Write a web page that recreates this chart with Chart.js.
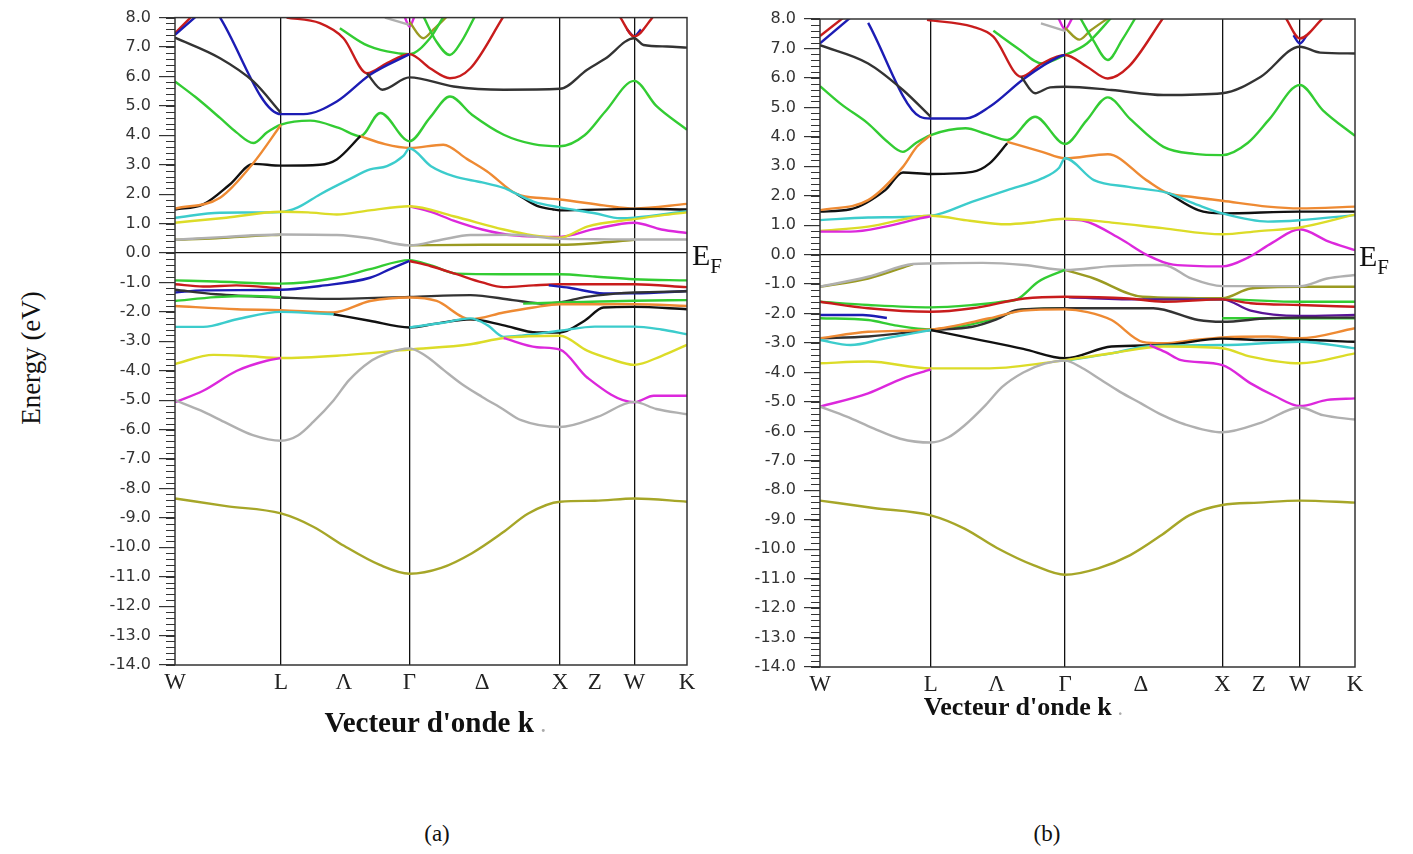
<!DOCTYPE html>
<html>
<head>
<meta charset="utf-8">
<script src="https://cdn.jsdelivr.net/npm/chart.js@4.4.1/dist/chart.umd.min.js"></script>
<style>
  body { margin: 0; width: 1413px; height: 854px; background: #fff; position: relative; overflow: hidden; font-family: "Liberation Serif", "Times New Roman", serif; }
  canvas { position: absolute; }
  .t { position: absolute; white-space: nowrap; color: #111; line-height: 1; }
</style>
</head>
<body>
<canvas id="bandsA" width="643" height="710" style="left:60px;top:0"></canvas>
<canvas id="bandsB" width="666" height="712" style="left:705px;top:0"></canvas>

<div class="t" style="left:31px;top:358px;font-size:27px;transform:translate(-50%,-50%) rotate(-90deg)">Energy (eV)</div>
<div class="t" style="left:692px;top:240px;font-size:30px">E<span style="font-size:21px;position:relative;top:8px">F</span></div>
<div class="t" style="left:1359px;top:241px;font-size:30px">E<span style="font-size:21px;position:relative;top:8px">F</span></div>
<div class="t" style="left:435px;top:722px;font-size:29px;font-weight:bold;transform:translate(-50%,-50%)">Vecteur d'onde k <span style="color:#aaa;font-size:18px">.</span></div>
<div class="t" style="left:1023px;top:707px;font-size:26px;font-weight:bold;transform:translate(-50%,-50%)">Vecteur d'onde k <span style="color:#aaa;font-size:16px">.</span></div>
<div class="t" style="left:437px;top:833px;font-size:23px;transform:translate(-50%,-50%)">(a)</div>
<div class="t" style="left:1047px;top:833px;font-size:23px;transform:translate(-50%,-50%)">(b)</div>

<script>
// k path (W L Λ Γ Δ X Z W K), energies in eV
const kTicks = [0, 20.7, 33, 45.8, 60, 75.2, 82, 89.7, 100];
const kLabels = ["W", "L", "Λ", "Γ", "Δ", "X", "Z", "W", "K"];
const kLines = [20.7, 45.8, 75.2, 89.7];
const eTicks = [-14, -13, -12, -11, -10, -9, -8, -7, -6, -5, -4, -3, -2, -1, 0, 1, 2, 3, 4, 5, 6, 7, 8];

// ---- panel (a) ----
const aOliveDeep = [[0,-8.34],[10,-8.6],[20.7,-8.85],[27,-9.3],[33,-9.95],[40,-10.6],[45.8,-10.9],[52,-10.7],[58,-10.2],[64,-9.5],[69,-8.85],[75.2,-8.45],[82,-8.42],[89.7,-8.34],[100,-8.45]];
const aGrayLow = [[0,-5.0],[5,-5.35],[9.6,-5.74],[15.2,-6.19],[20.7,-6.38],[24,-6.2],[27,-5.74],[31,-5.0],[34,-4.32],[38,-3.7],[41.4,-3.41],[45.8,-3.24],[49,-3.5],[52.5,-3.98],[56,-4.45],[60,-4.89],[64,-5.3],[67.6,-5.68],[75.2,-5.91],[82.5,-5.57],[89.7,-5.06],[94,-5.3],[100,-5.48]];
const aMagLow1 = [[0,-5.07],[5.5,-4.68],[12.1,-4.0],[17.9,-3.66],[20.7,-3.57]];
const aMagLow2 = [[64.2,-2.89],[70.7,-3.2],[75.2,-3.28],[80.5,-4.23],[89.7,-5.07],[93.5,-4.85],[100,-4.85]];
const aYellowLow = [[0,-3.77],[7.5,-3.46],[14,-3.5],[20.7,-3.57],[31.6,-3.49],[45.8,-3.28],[57.7,-3.1],[64.2,-2.89],[75.2,-2.81],[80.5,-3.32],[85,-3.6],[89.7,-3.8],[95,-3.5],[100,-3.12]];
const aCyanLow1 = [[0,-2.51],[5.5,-2.51],[12.1,-2.25],[20.7,-2.0],[28.3,-2.06],[31,-2.08]];
const aCyanLow2 = [[45.8,-2.53],[52,-2.38],[57.7,-2.22],[61,-2.45],[64.2,-2.85],[68,-2.8],[75.2,-2.64],[82,-2.5],[89.7,-2.5],[95,-2.6],[100,-2.76]];
const aBlackLow = [[30.9,-2.08],[38,-2.3],[45.8,-2.53],[51,-2.4],[57.7,-2.25],[64,-2.45],[70.7,-2.7],[75.2,-2.7],[80,-2.3],[83.7,-1.85],[89.7,-1.83],[100,-1.91]];
const aOrangeVal = [[0,-1.8],[12.1,-1.91],[20.7,-1.94],[30.9,-2.02],[38.1,-1.63],[45.8,-1.51],[51.1,-1.63],[57.7,-2.25],[64.2,-2.02],[70,-1.85],[75.2,-1.74],[89.7,-1.74],[100,-1.8]];
const aGreenMid1 = [[0,-1.63],[8,-1.5],[15,-1.46],[20.7,-1.5]];
const aGreenMid2 = [[68,-1.72],[75.2,-1.68],[83,-1.65],[89.7,-1.62],[100,-1.6]];
const aBlackVal = [[0,-1.25],[8,-1.4],[20.7,-1.51],[30,-1.56],[45.8,-1.49],[57.7,-1.43],[66,-1.6],[72,-1.72],[75.2,-1.68],[80,-1.5],[86,-1.38],[89.7,-1.34],[100,-1.3]];
const aBlueVal1 = [[0,-1.34],[5.5,-1.27],[20.7,-1.25],[28.3,-1.12],[38.1,-0.84],[42,-0.55],[45.8,-0.27]];
const aBlueVal2 = [[73,-1.1],[77,-1.18],[83.7,-1.37],[89.7,-1.37],[100,-1.29]];
const aRedVal1 = [[0,-1.06],[5.5,-1.14],[12,-1.1],[20.7,-1.2]];
const aRedVal2 = [[45.8,-0.27],[50,-0.45],[55,-0.72],[60,-1.0],[64.2,-1.16],[70,-1.1],[75.2,-1.06],[89.7,-1.06],[100,-1.16]];
const aGreenTop = [[0,-0.93],[8,-0.97],[20.7,-1.04],[31.6,-0.84],[38.1,-0.55],[45.8,-0.24],[50,-0.42],[55,-0.7],[64,-0.72],[75.2,-0.72],[82,-0.8],[89.7,-0.89],[100,-0.93]];
const aOliveCon1 = [[0,0.45],[8,0.5],[15,0.58],[20.7,0.62]];
const aOliveCon2 = [[45.8,0.26],[60,0.28],[75.2,0.28],[83,0.35],[89.7,0.45]];
const aGrayCon = [[0,0.45],[10,0.55],[20.7,0.63],[31.6,0.61],[38,0.5],[45.8,0.26],[52,0.45],[57.7,0.61],[66,0.62],[75.2,0.48],[82,0.47],[89.7,0.46],[100,0.46]];
const aYellowCon = [[0,1.03],[10,1.2],[20.7,1.4],[26,1.38],[31.6,1.31],[38,1.45],[45.8,1.59],[54.4,1.25],[64.2,0.8],[70,0.6],[75.2,0.52],[80.5,0.9],[89.7,1.15],[95,1.28],[100,1.38]];
const aMagCon = [[45.8,1.59],[50,1.4],[54.4,1.1],[60,0.8],[66,0.6],[75.2,0.55],[82,0.82],[89.7,1.03],[95,0.8],[100,0.68]];
const aCyanCon = [[0,1.2],[8.8,1.37],[20.7,1.39],[24,1.55],[28.3,1.99],[34,2.5],[38.1,2.84],[41.4,2.95],[44.6,3.3],[45.8,3.55],[50,2.95],[54.4,2.61],[60,2.4],[64.2,2.21],[66.8,2.0],[70,1.75],[75.2,1.55],[82,1.35],[87,1.18],[89.7,1.2],[100,1.42]];
const aBlackCon1 = [[0,1.48],[5.5,1.65],[10.7,2.33],[15.3,3.03],[20.7,2.97],[28.3,3.0],[31.6,3.18],[36.2,3.97]];
const aBlackCon2 = [[66.8,2.0],[70.7,1.6],[73.9,1.48],[75.2,1.45],[89.7,1.5],[100,1.48]];
const aOrangeCon1 = [[0,1.51],[8.8,1.88],[15.3,3.06],[20.7,4.36]];
const aOrangeCon2 = [[36.2,3.97],[41,3.7],[45.8,3.57],[52.4,3.68],[57,3.2],[60.9,2.78],[66.8,2.0],[72,1.86],[75.2,1.82],[83.7,1.62],[89.7,1.51],[100,1.67]];
const aGreenCon = [[0,5.83],[4,5.3],[8.8,4.59],[12,4.1],[15.3,3.74],[18,4.1],[20.7,4.36],[26.4,4.5],[32,4.25],[36.2,3.97],[40.1,4.76],[45.8,3.8],[49.8,4.6],[53.7,5.32],[58,4.7],[64.2,4.02],[70,3.7],[75.2,3.63],[80,4.0],[84,4.8],[89.7,5.85],[94,5.0],[100,4.19]];
const aBlueHi1 = [[0,7.41],[4.5,8.1]];
const aBlueHi2 = [[8.8,8.0],[20.7,4.72],[25.1,4.72],[31.6,5.15],[38.1,6.06],[45.8,6.76]];
const aBlueHi3 = [[88.3,7.6],[89.7,7.36],[91,7.6]];
const aBlackHi1 = [[0,7.32],[8.8,6.62],[15.3,5.83],[20.7,4.76]];
const aBlackHi2 = [[37.5,6.1],[40.5,5.55],[45.8,5.97],[54.4,5.66],[64.2,5.55],[75.2,5.58],[80.5,6.23],[84,6.6],[89.7,7.3],[91.5,7.07],[96.1,7.02],[100,6.98]];
const aRedHi1 = [[0,7.47],[3.6,8.1]];
const aRedHi2 = [[21.8,8.0],[28.3,7.81],[32.9,7.3],[37.5,6.11],[41.4,6.45],[45.8,6.76],[49.8,6.28],[53.7,5.94],[57.7,6.28],[64.2,8.05]];
const aRedHi3 = [[86.8,8.05],[89.7,7.36],[93.5,8.05]];
const aGreenHi1 = [[32.2,7.64],[37,7.1],[41.4,6.85],[45.8,6.76],[49.8,7.3],[52.5,8.05]];
const aGreenHi2 = [[48.5,8.05],[51,7.2],[53.7,6.73],[56,7.2],[58.6,8.05]];
const aOliveHi = [[45.8,7.85],[48.5,7.3],[50.5,7.6],[53.2,8.05]];
const aGrayHi = [[41,8.0],[45.8,7.75]];
const aMagHi = [[44.8,8.05],[45.8,7.7],[46.8,8.05]];

// ---- panel (b) ----
const bOliveDeep = [[0,-8.35],[10,-8.6],[20.7,-8.85],[27,-9.3],[33,-9.95],[40,-10.55],[45.8,-10.87],[52,-10.65],[58,-10.2],[64,-9.5],[69,-8.85],[75.2,-8.5],[82,-8.42],[89.7,-8.35],[100,-8.42]];
const bGrayLow = [[0,-5.16],[5,-5.5],[10,-5.9],[15,-6.25],[20.7,-6.38],[24,-6.2],[27,-5.8],[31,-5.1],[34,-4.5],[38,-4.0],[42,-3.7],[45.8,-3.6],[49,-3.85],[52.5,-4.25],[56,-4.65],[60,-5.05],[64,-5.45],[68,-5.75],[75.2,-6.03],[82.5,-5.7],[89.7,-5.19],[94,-5.45],[100,-5.6]];
const bMagLow1 = [[0,-5.16],[9,-4.71],[15.5,-4.2],[19.4,-3.97],[20.7,-3.9]];
const bMagLow2 = [[61.6,-3.07],[64.5,-3.3],[67.5,-3.58],[75.2,-3.75],[80.5,-4.37],[85,-4.8],[89.7,-5.14],[94.8,-4.93],[100,-4.88]];
const bYellowLow = [[0,-3.69],[9,-3.63],[20.7,-3.86],[31.7,-3.86],[45.8,-3.58],[54.5,-3.35],[64.2,-3.12],[75.2,-3.18],[80.5,-3.46],[89.7,-3.69],[100,-3.35]];
const bCyanLow1 = [[0,-2.9],[5.7,-3.07],[12,-2.85],[20.7,-2.56]];
const bCyanLow2 = [[45.8,-3.6],[54.5,-3.35],[62,-3.1],[75.2,-3.07],[89.7,-2.96],[100,-3.18]];
const bBlackLow = [[20.7,-2.56],[30,-2.9],[38,-3.2],[45.8,-3.52],[54.5,-3.12],[64.2,-3.07],[75.2,-2.85],[82,-2.9],[89.7,-2.9],[100,-2.96]];
const bBlackVal = [[0,-2.84],[9,-2.78],[20.7,-2.56],[28.5,-2.45],[33,-2.2],[36.9,-1.88],[45.8,-1.82],[62.3,-1.82],[70.7,-2.22],[75.2,-2.28],[83.7,-2.16],[89.7,-2.14],[100,-2.14]];
const bOrangeVal = [[0,-2.84],[9,-2.62],[20.7,-2.54],[31.7,-2.16],[38,-1.9],[45.8,-1.86],[50,-1.95],[54.5,-2.22],[60.3,-2.96],[64.2,-3.01],[70,-2.9],[75.2,-2.81],[83.7,-2.78],[89.7,-2.84],[100,-2.5]];
const bGreenMid1 = [[0,-2.16],[9,-2.22],[14,-2.4],[20.7,-2.54],[31.7,-2.22],[38.2,-1.86],[45.8,-1.82]];
const bGreenMid2 = [[75.2,-2.16],[89.7,-2.16],[100,-2.16]];
const bBlueVal1 = [[0,-2.05],[8,-2.05],[12.5,-2.15]];
const bBlueVal2 = [[46.5,-1.45],[60.3,-1.52],[75.2,-1.52],[80.5,-1.9],[89.7,-2.08],[100,-2.05]];
const bRedVal = [[0,-1.6],[9,-1.82],[20.7,-1.94],[28.5,-1.82],[38.2,-1.49],[45.8,-1.43],[57.7,-1.49],[64.2,-1.6],[75.2,-1.52],[80.5,-1.65],[89.7,-1.71],[100,-1.77]];
const bGreenVal1 = [[0,-1.6],[9,-1.71],[20.7,-1.79],[28.5,-1.71],[34,-1.6],[37,-1.5],[40.8,-0.92],[45.8,-0.52]];
const bGreenVal2 = [[60.3,-1.52],[75.2,-1.52],[89.7,-1.6],[100,-1.6]];
const bOliveVal1 = [[0,-1.09],[9,-0.81],[17.4,-0.32]];
const bOliveVal2 = [[45.8,-0.52],[51.2,-0.81],[60.3,-1.43],[75.2,-1.48],[80.5,-1.15],[89.7,-1.09],[100,-1.09]];
const bGrayTop = [[0,-1.09],[9,-0.75],[17.4,-0.32],[20.7,-0.3],[30.4,-0.28],[38.2,-0.35],[45.8,-0.52],[54.5,-0.39],[64.2,-0.35],[69.4,-0.81],[75.2,-1.07],[89.7,-1.07],[94.8,-0.81],[100,-0.69]];
const bMagCon1 = [[0,0.78],[5.7,0.78],[12.2,0.95],[18.7,1.23],[20.7,1.3]];
const bMagCon2 = [[45.8,1.2],[49.3,1.15],[56.3,0.52],[61,0.0],[66,-0.34],[75.2,-0.4],[80,-0.1],[84.5,0.4],[89.7,0.86],[95,0.45],[100,0.15]];
const bYellowCon = [[0,0.8],[9,0.95],[20.7,1.32],[28,1.15],[34.8,1.03],[40,1.1],[45.8,1.22],[55,1.08],[64,0.9],[75.2,0.69],[82,0.8],[89.7,0.92],[100,1.36]];
const bCyanCon = [[0,1.17],[9,1.26],[20.7,1.32],[28.5,1.8],[35,2.19],[41.5,2.59],[44.7,2.95],[45.8,3.27],[51.2,2.53],[57.7,2.3],[64.9,2.1],[70.7,1.68],[75.2,1.4],[83.7,1.12],[89.7,1.17],[100,1.34]];
const bBlackCon1 = [[0,1.46],[5.7,1.54],[12.2,2.19],[15.5,2.79],[20.7,2.74],[28.5,2.81],[31.7,3.1],[35,3.78]];
const bBlackCon2 = [[64.9,2.1],[70.7,1.51],[75.2,1.4],[89.7,1.46],[100,1.46]];
const bOrangeCon1 = [[0,1.51],[9,1.85],[15.5,2.98],[18.1,3.66],[20.7,4.06]];
const bOrangeCon2 = [[35,3.83],[41.5,3.49],[45.8,3.27],[53.8,3.41],[61,2.53],[64.9,2.1],[70,1.95],[75.2,1.83],[83.7,1.63],[89.7,1.57],[100,1.63]];
const bGreenCon = [[0,5.72],[4,5.1],[9,4.45],[12.5,3.85],[15.5,3.49],[18,3.8],[20.7,4.06],[27.2,4.29],[31,4.1],[35,3.89],[40.2,4.68],[45.8,3.76],[49.8,4.55],[53.8,5.34],[58,4.6],[64.2,3.66],[70,3.42],[75.2,3.38],[80,3.8],[84,4.6],[89.7,5.76],[94,4.9],[100,4.03]];
const bBlueHi1 = [[0,7.17],[5.7,8.05]];
const bBlueHi2 = [[9,7.87],[18.7,4.68],[20.7,4.62],[27.2,4.62],[31.7,5.02],[38.2,5.98],[44.7,6.72],[45.8,6.78]];
const bBlueHi3 = [[88.5,7.45],[89.7,7.17],[91,7.45]];
const bBlackHi1 = [[0,7.11],[9,6.49],[15.5,5.59],[20.7,4.68]];
const bBlackHi2 = [[37.6,6.04],[40.2,5.48],[43,5.68],[45.8,5.7],[54.5,5.59],[64.2,5.42],[75.2,5.48],[82.4,6.04],[89.7,7.06],[93.5,6.86],[100,6.83]];
const bRedHi1 = [[0,7.42],[4.4,8.05]];
const bRedHi2 = [[20,7.97],[28.5,7.74],[32.4,7.4],[37.6,6.04],[41.5,6.49],[45.8,6.78],[49.9,6.38],[53.8,5.98],[57.7,6.38],[64.2,8.05]];
const bRedHi3 = [[87,8.05],[89.7,7.34],[94.1,8.05]];
const bGreenHi1 = [[32.4,7.6],[37,7.0],[41.5,6.49],[45.8,6.78],[49.9,7.17],[54.5,8.05]];
const bGreenHi2 = [[48.6,8.05],[51,7.3],[53.8,6.61],[56.5,7.3],[59,8.05]];
const bOliveHi = [[45.8,7.7],[48.5,7.3],[50.5,7.6],[54,8.05]];
const bGrayHi = [[41.3,7.85],[45.8,7.6]];
const bMagHi = [[44.5,8.05],[45.8,7.65],[47.2,8.05]];

const palette = {
  green: "#33cc33", blue: "#1c1cb4", red: "#c81c1c", black: "#111111", dark: "#333333",
  orange: "#ee8a33", cyan: "#3ccccc", yellow: "#dcdc28", magenta: "#dc28dc",
  gray: "#b0b0b0", olive: "#9a9a22", deep: "#a6a628", purple: "#5a1496"
};

const bandsA = [
  [aOliveDeep, "deep"], [aGrayLow, "gray"], [aMagLow1, "magenta"], [aMagLow2, "magenta"], [aYellowLow, "yellow"],
  [aCyanLow1, "cyan"], [aCyanLow2, "cyan"], [aBlackLow, "black"], [aOrangeVal, "orange"], [aGreenMid1, "green"],
  [aGreenMid2, "green"], [aBlackVal, "dark"], [aBlueVal1, "blue"], [aBlueVal2, "blue"], [aRedVal1, "red"],
  [aRedVal2, "red"], [aGreenTop, "green"], [aGrayCon, "gray"], [aOliveCon1, "olive"], [aOliveCon2, "olive"],
  [aYellowCon, "yellow"], [aMagCon, "magenta"], [aCyanCon, "cyan"], [aOrangeCon1, "orange"], [aBlackCon1, "black"],
  [aBlackCon2, "black"], [aOrangeCon2, "orange"], [aGreenCon, "green"], [aBlackHi1, "dark"], [aBlackHi2, "dark"],
  [aBlueHi1, "blue"], [aBlueHi2, "blue"], [aRedHi1, "red"], [aRedHi2, "red"], [aRedHi3, "red"], [aBlueHi3, "blue"],
  [aGreenHi1, "green"], [aGreenHi2, "green"], [aOliveHi, "olive"], [aGrayHi, "gray"], [aMagHi, "magenta"]
];

const bandsB = [
  [bOliveDeep, "deep"], [bGrayLow, "gray"], [bMagLow1, "magenta"], [bMagLow2, "magenta"], [bYellowLow, "yellow"],
  [bCyanLow1, "cyan"], [bCyanLow2, "cyan"], [bBlackLow, "black"], [bOrangeVal, "orange"], [bBlackVal, "dark"],
  [bGreenMid1, "green"], [bGreenMid2, "green"], [bBlueVal1, "blue"], [bRedVal, "red"], [bBlueVal2, "purple"],
  [bGreenVal1, "green"], [bGreenVal2, "green"], [bGrayTop, "gray"], [bOliveVal1, "olive"], [bOliveVal2, "olive"],
  [bMagCon1, "magenta"], [bYellowCon, "yellow"], [bMagCon2, "magenta"], [bCyanCon, "cyan"], [bOrangeCon1, "orange"],
  [bBlackCon1, "black"], [bBlackCon2, "black"], [bOrangeCon2, "orange"], [bGreenCon, "green"], [bBlackHi1, "dark"],
  [bBlackHi2, "dark"], [bBlueHi1, "blue"], [bBlueHi2, "blue"], [bRedHi1, "red"], [bRedHi2, "red"], [bRedHi3, "red"],
  [bBlueHi3, "blue"], [bGreenHi1, "green"], [bGreenHi2, "green"], [bOliveHi, "olive"], [bGrayHi, "gray"], [bMagHi, "magenta"]
];

// frame + minor ticks on the energy axis
const frame = {
  id: "frame",
  afterDraw(chart) {
    const { ctx, chartArea: a, scales: { y } } = chart;
    ctx.save();
    ctx.strokeStyle = "#333";
    ctx.lineWidth = 1;
    ctx.beginPath();
    for (let i = 0; i <= 110; i++) {
      const py = Math.round(y.getPixelForValue(-14 + i * 0.2)) + 0.5;
      ctx.moveTo(a.left - 9, py);
      ctx.lineTo(a.left, py);
    }
    ctx.stroke();
    ctx.lineWidth = 1.5;
    ctx.strokeRect(a.left, a.top, a.right - a.left, a.bottom - a.top);
    ctx.restore();
  }
};

const makeChart = (id, bands, padTop) => {
  const context = document.getElementById(id).getContext("2d");
  return new Chart(context, {
    type: "line",
    data: {
      datasets: bands.map(([pts, c]) => ({
        data: pts.map(([x, y]) => ({ x, y })),
        borderColor: palette[c],
        borderWidth: 2.4,
        pointRadius: 0,
        cubicInterpolationMode: "monotone",
        fill: false,
        clip: 0,
      })),
    },
    options: {
      responsive: false,
      animation: false,
      devicePixelRatio: 1,
      layout: { padding: { top: padTop, right: 16, bottom: 5, left: 0 } },
      plugins: { legend: { display: false }, tooltip: { enabled: false } },
      scales: {
        x: {
          type: "linear",
          min: 0,
          max: 100,
          afterBuildTicks: (s) => { s.ticks = kTicks.map((value) => ({ value })); },
          afterFit: (s) => { s.height = 40; s.paddingLeft = 0; s.paddingRight = 0; },
          border: { display: false },
          grid: {
            drawTicks: false,
            lineWidth: 1.3,
            color: (c) => (c.tick && kLines.includes(c.tick.value) ? "#111" : "rgba(0,0,0,0)"),
          },
          ticks: {
            autoSkip: false,
            maxRotation: 0,
            padding: 4,
            color: "#222",
            font: { family: "Liberation Serif", size: 23 },
            callback: (v, i) => kLabels[i],
          },
        },
        y: {
          min: -14,
          max: 8,
          afterBuildTicks: (s) => { s.ticks = eTicks.map((value) => ({ value })); },
          afterFit: (s) => { s.width = 115; },
          border: { display: false },
          grid: {
            lineWidth: 1.2,
            tickLength: 16,
            tickColor: "#333",
            color: (c) => (c.tick && c.tick.value === 0 ? "#111" : "rgba(0,0,0,0)"),
          },
          ticks: {
            autoSkip: false,
            padding: 8,
            color: "#333",
            font: { family: "DejaVu Sans", size: 16 },
            callback: (v) => v.toFixed(1),
          },
        },
      },
    },
    plugins: [frame],
  });
};

makeChart("bandsA", bandsA, 16);
makeChart("bandsB", bandsB, 19);
</script>
</body>
</html>
